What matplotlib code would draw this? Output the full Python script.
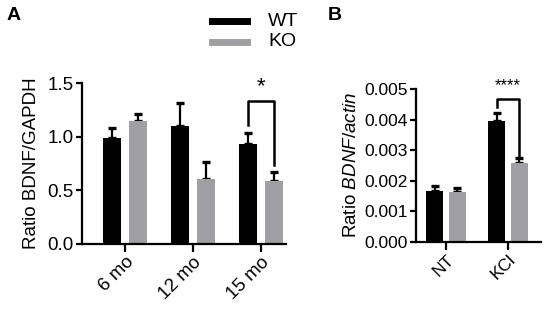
import matplotlib
matplotlib.use("Agg")
import matplotlib.pyplot as plt
import numpy as np

plt.rcParams['font.family'] = ['Liberation Sans', 'DejaVu Sans']
plt.rcParams['mathtext.fontset'] = 'custom'
plt.rcParams['mathtext.rm'] = 'Liberation Sans'
plt.rcParams['mathtext.it'] = 'Liberation Sans:italic'

# Panel A data
ages = ['6 mo', '12 mo', '15 mo']
a_wt = [0.99, 1.10, 0.93]
a_wt_err = [0.09, 0.21, 0.10]
a_ko = [1.15, 0.61, 0.59]
a_ko_err = [0.06, 0.15, 0.08]

# Panel B data
conds = ['NT', 'KCl']
b_wt = [0.00168, 0.00396]
b_wt_err = [0.00015, 0.00026]
b_ko = [0.00165, 0.00257]
b_ko_err = [0.00011, 0.00016]

BLACK = '#000000'
GREY = '#a0a0a4'
W, H = 546, 309


def style_axes(ax, fs):
    for s in ['top', 'right']:
        ax.spines[s].set_visible(False)
    for s in ['left', 'bottom']:
        ax.spines[s].set_linewidth(1.6)
    ax.tick_params(axis='y', width=1.6, length=4, labelsize=fs, pad=2)
    ax.tick_params(axis='x', width=1.6, length=6, labelsize=fs, pad=1)


def draw_bars(ax, wt, wt_err, ko, ko_err, width, off):
    x = np.arange(len(wt))
    for xs, vals, errs, col in [(x - off, wt, wt_err, BLACK), (x + off, ko, ko_err, GREY)]:
        ax.bar(xs, vals, width, color=col, zorder=2)
        ax.errorbar(xs, vals, yerr=[np.zeros(len(errs)), errs], fmt='none',
                    ecolor='black', elinewidth=1.6, capsize=3.2, capthick=2.4, zorder=1)
    return x


fig = plt.figure(figsize=(W / 100, H / 100), dpi=100)

# Panel A
axA = fig.add_axes([82 / W, 1 - 244 / H, 204 / W, 161 / H])
x = draw_bars(axA, a_wt, a_wt_err, a_ko, a_ko_err, 0.265, 0.19)
axA.set_xlim(-0.632, 2.37)
axA.set_ylim(0, 1.5)
axA.set_yticks([0, 0.5, 1.0, 1.5])
axA.set_yticklabels(['0.0', '0.5', '1.0', '1.5'])
axA.set_xticks(x)
axA.set_xticklabels(ages, rotation=45, ha='right', va='top', rotation_mode='anchor')
style_axes(axA, 13.5)
axA.set_ylabel('Ratio BDNF/GAPDH', fontsize=13.5, labelpad=5)
# significance bracket
axA.plot([2 - 0.19, 2 - 0.19, 2 + 0.19, 2 + 0.19], [1.11, 1.335, 1.335, 0.74],
         color='black', lw=1.8, clip_on=False)
axA.text(2, 1.37, '*', ha='center', va='bottom', fontsize=16)

# Panel B
axB = fig.add_axes([416 / W, 1 - 242 / H, 125 / W, 153 / H])
x = draw_bars(axB, b_wt, b_wt_err, b_ko, b_ko_err, 0.26, 0.185)
axB.set_xlim(-0.484, 1.532)
axB.set_ylim(0, 0.005)
axB.set_yticks(np.arange(0, 0.0051, 0.001))
axB.set_yticklabels(['0.000', '0.001', '0.002', '0.003', '0.004', '0.005'])
axB.set_xticks(x)
axB.set_xticklabels(conds, rotation=45, ha='right', va='top', rotation_mode='anchor')
style_axes(axB, 12.5)
axB.set_ylabel(r'Ratio $\it{BDNF/actin}$', fontsize=13.5, labelpad=3)
axB.plot([1 - 0.185, 1 - 0.185, 1 + 0.185, 1 + 0.185], [0.00441, 0.00467, 0.00467, 0.0028],
         color='black', lw=1.8, clip_on=False)
axB.text(1, 0.00486, '****', ha='center', va='bottom', fontsize=12)

# Legend
fig.add_artist(plt.Line2D([212 / W, 247 / W], [1 - 21 / H, 1 - 21 / H], color=BLACK, lw=5))
fig.add_artist(plt.Line2D([212 / W, 247 / W], [1 - 42 / H, 1 - 42 / H], color=GREY, lw=5))
fig.text(268 / W, 1 - 21 / H, 'WT', fontsize=14, va='center', ha='left')
fig.text(268 / W, 1 - 42 / H, 'KO', fontsize=14, va='center', ha='left')

# Panel labels
fig.text(7 / W, 1 - 15 / H, 'A', fontsize=14, fontweight='bold', va='center', ha='left')
fig.text(328 / W, 1 - 15 / H, 'B', fontsize=14, fontweight='bold', va='center', ha='left')

fig.savefig('out.png', dpi=100)
